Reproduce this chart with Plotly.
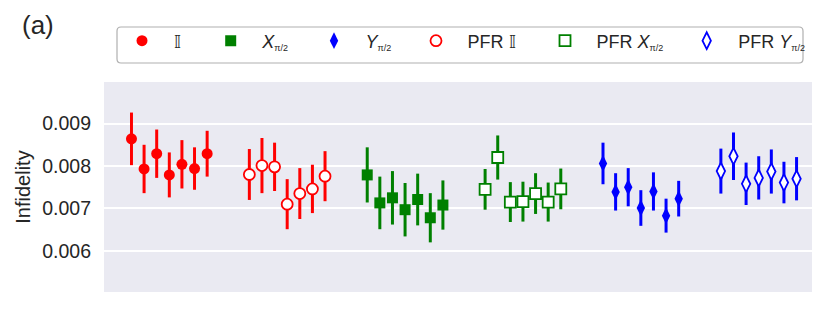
import plotly.graph_objects as go

# ---- data ----
SUB = "<sub><span style='font-size:9px'>π/2</span></sub>"
labels = ["𝕀", "<i>X</i>" + SUB, "<i>Y</i>" + SUB,
          "PFR 𝕀", "PFR <i>X</i>" + SUB, "PFR <i>Y</i>" + SUB]
# position of each series' cluster along the x axis (left to right)
cluster_pos = [0, 2, 4, 1, 3, 5]

infid_I = [0.00864, 0.00793, 0.00829, 0.00779, 0.00804, 0.00794, 0.00829]
err_I = [0.00062, 0.00057, 0.00057, 0.00053, 0.00057, 0.00050, 0.00054]

infid_X = [0.00779, 0.00713, 0.00725, 0.00697, 0.00721, 0.00678, 0.00708]
err_X = [0.00065, 0.00062, 0.00063, 0.00063, 0.00061, 0.00058, 0.00058]

infid_Y = [0.00806, 0.00739, 0.00750, 0.00701, 0.00740, 0.00683, 0.00723]
err_Y = [0.00049, 0.00044, 0.00045, 0.00042, 0.00045, 0.00040, 0.00042]

infid_PFR_I = [0.00780, 0.00801, 0.00798, 0.00710, 0.00735, 0.00746, 0.00776]
err_PFR_I = [0.00060, 0.00065, 0.00057, 0.00059, 0.00060, 0.00057, 0.00059]

infid_PFR_X = [0.00745, 0.00820, 0.00715, 0.00716, 0.00735, 0.00715, 0.00746]
err_PFR_X = [0.00048, 0.00052, 0.00047, 0.00047, 0.00048, 0.00046, 0.00048]

infid_PFR_Y = [0.00788, 0.00823, 0.00758, 0.00772, 0.00787, 0.00761, 0.00770]
err_PFR_Y = [0.00053, 0.00056, 0.00050, 0.00051, 0.00052, 0.00049, 0.00051]

series_vals = [infid_I, infid_X, infid_Y, infid_PFR_I, infid_PFR_X, infid_PFR_Y]
series_errs = [err_I, err_X, err_Y, err_PFR_I, err_PFR_X, err_PFR_Y]

# ---- styles ----
FONT = "Liberation Sans, Arial, sans-serif"
colors = ["#ff0000", "#008000", "#0000ff", "#ff0000", "#008000", "#0000ff"]
symbols = ["circle", "square", "diamond-tall", "circle", "square", "diamond-tall"]
sizes = [11, 11, 12, 11, 11, 12]
filled = [True, True, True, False, False, False]
step = 0.107
legend_px = [142, 230.7, 334, 436, 565, 706.7]
ITEMW = 53

L, R, T, B = 104, 18, 82, 20
W, H = 830, 312
pw, ph = W - L - R, H - T - B

fig = go.Figure()
for k in range(6):
    n = len(series_vals[k])
    xs = [cluster_pos[k] + (i - (n - 1) / 2) * step for i in range(n)]
    lg = "legend" if k == 0 else f"legend{k+1}"
    fig.add_trace(go.Scatter(
        x=xs, y=series_vals[k], mode="markers", name=labels[k],
        legend=lg,
        error_y=dict(type="data", array=series_errs[k], color=colors[k],
                     thickness=3, width=0),
        marker=dict(symbol=symbols[k], size=sizes[k],
                    color=colors[k] if filled[k] else "white",
                    line=dict(color=colors[k], width=0 if filled[k] else 1.8)),
    ))

layout_legends = {}
for k in range(6):
    key = "legend" if k == 0 else f"legend{k+1}"
    layout_legends[key] = dict(
        x=(legend_px[k] - (ITEMW / 2 + 5) - L) / pw, xanchor="left",
        y=(H - B - 41) / ph, yanchor="middle",
        bgcolor="rgba(0,0,0,0)", borderwidth=0,
        font=dict(family=FONT, size=18, color="#262626"),
        itemwidth=ITEMW,
    )

# rounded legend frame
x0, x1 = (117 - L) / pw, (803 - L) / pw
y0, y1 = (H - B - 63) / ph, (H - B - 27) / ph
rx, ry = 4 / pw, 4 / ph
path = (f"M {x0+rx},{y1} L {x1-rx},{y1} Q {x1},{y1} {x1},{y1-ry} "
        f"L {x1},{y0+ry} Q {x1},{y0} {x1-rx},{y0} L {x0+rx},{y0} "
        f"Q {x0},{y0} {x0},{y0+ry} L {x0},{y1-ry} Q {x0},{y1} {x0+rx},{y1} Z")

fig.update_layout(
    width=W, height=H,
    margin=dict(l=L, r=R, t=T, b=B, autoexpand=False),
    paper_bgcolor="white",
    plot_bgcolor="#eaeaf2",
    font=dict(family=FONT, size=20, color="#262626"),
    showlegend=True,
    xaxis=dict(range=[-0.554, 5.452], showgrid=False, zeroline=False,
               showticklabels=False, ticks=""),
    yaxis=dict(range=[0.00503, 0.00998], tickvals=[0.006, 0.007, 0.008, 0.009],
               ticktext=["0.006", "0.007", "0.008", "0.009"],
               gridcolor="white", gridwidth=2, zeroline=False, ticks="",
               ticklabelstandoff=12,
               tickfont=dict(family=FONT, size=19.5, color="#262626"),
               title=dict(text="Infidelity", standoff=6,
                          font=dict(family=FONT, size=20, color="#262626"))),
    shapes=[dict(type="path", xref="paper", yref="paper", path=path,
                 fillcolor="white", line=dict(color="#b0b0b0", width=1.2),
                 layer="above")],
    annotations=[dict(text="(a)", xref="paper", yref="paper",
                      x=(38 - L) / pw, y=(H - B - 25) / ph,
                      xanchor="center", yanchor="middle", showarrow=False,
                      font=dict(family=FONT, size=26, color="#262626"))],
    **layout_legends,
)

fig.write_html("out.html",
               config={"displayModeBar": False},
               post_script="document.body.style.margin='0';document.body.style.overflow='hidden';")
